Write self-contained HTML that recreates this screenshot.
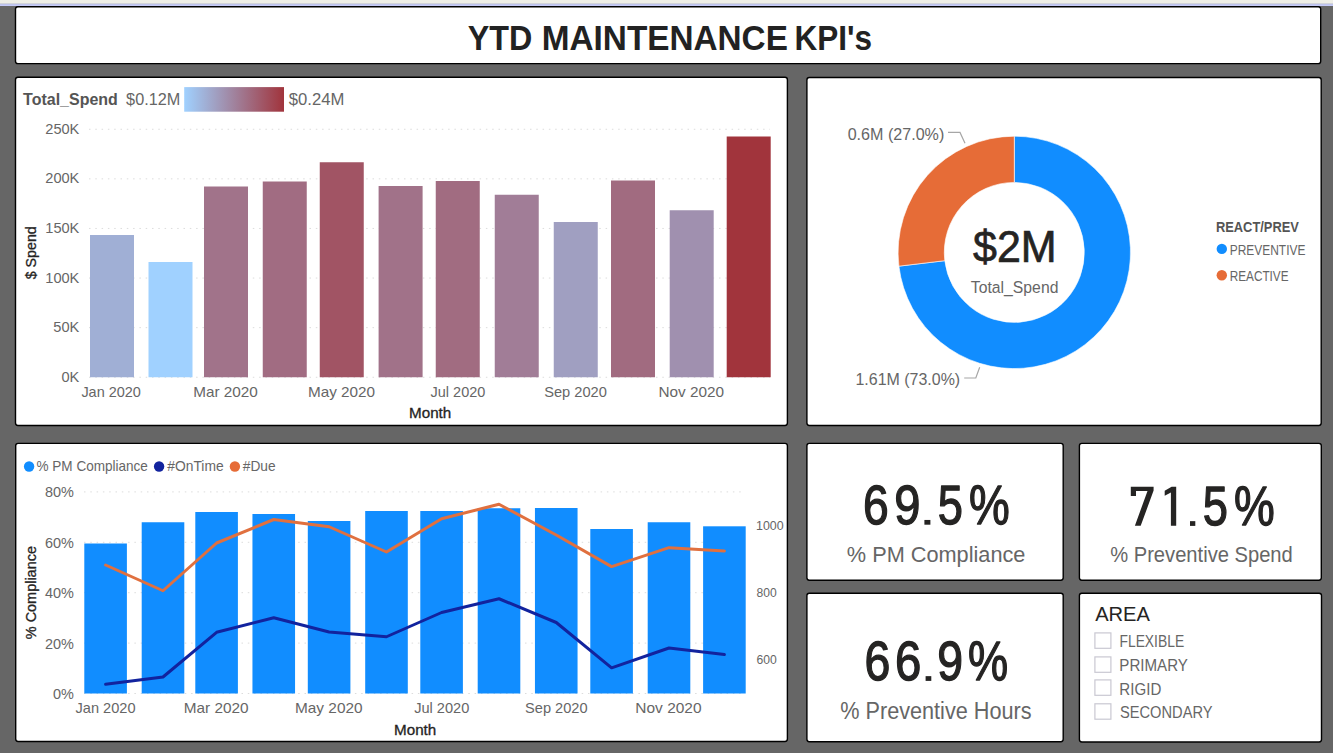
<!DOCTYPE html>
<html><head><meta charset="utf-8"><title>YTD MAINTENANCE KPI's</title>
<style>html,body{margin:0;padding:0;background:#666;overflow:hidden}svg{display:block}text{font-family:"Liberation Sans",sans-serif}</style>
</head><body>
<svg width="1333" height="753" viewBox="0 0 1333 753">
<defs><linearGradient id="lg" x1="0" x2="1" y1="0" y2="0"><stop offset="0" stop-color="#a0d1ff"/><stop offset="1" stop-color="#a1343c"/></linearGradient></defs>
<rect x="0" y="0" width="1333" height="753" fill="#666666"/>
<rect x="0" y="0" width="1333" height="3.4" fill="#efefe7"/>
<rect x="0" y="3.2" width="1333" height="1" fill="#dfe1ea"/>
<rect x="0" y="4.1" width="1333" height="1.9" fill="#c6cbf8"/>
<rect x="15.50" y="6.70" width="1305.20" height="56.90" rx="2.4" ry="2.4" fill="#fff" stroke="#000" stroke-width="1.4"/>
<rect x="15.50" y="77.30" width="771.90" height="348.20" rx="2.4" ry="2.4" fill="#fff" stroke="#000" stroke-width="1.4"/>
<rect x="806.90" y="77.50" width="514.30" height="348.00" rx="2.4" ry="2.4" fill="#fff" stroke="#000" stroke-width="1.4"/>
<rect x="15.70" y="443.40" width="771.70" height="298.10" rx="2.4" ry="2.4" fill="#fff" stroke="#000" stroke-width="1.4"/>
<rect x="806.90" y="443.40" width="256.30" height="136.80" rx="2.4" ry="2.4" fill="#fff" stroke="#000" stroke-width="1.4"/>
<rect x="1079.40" y="443.40" width="241.90" height="136.80" rx="2.4" ry="2.4" fill="#fff" stroke="#000" stroke-width="1.4"/>
<rect x="806.90" y="593.20" width="256.30" height="148.50" rx="2.4" ry="2.4" fill="#fff" stroke="#000" stroke-width="1.4"/>
<rect x="1079.40" y="593.20" width="242.10" height="148.80" rx="2.4" ry="2.4" fill="#fff" stroke="#000" stroke-width="1.4"/>
<text x="467.65" y="50.00" font-size="34.5" fill="#222" font-weight="bold" textLength="64.57" lengthAdjust="spacingAndGlyphs">YTD</text>
<text x="541.80" y="50.00" font-size="34.5" fill="#222" font-weight="bold" textLength="246.09" lengthAdjust="spacingAndGlyphs">MAINTENANCE</text>
<text x="794.42" y="50.00" font-size="34.5" fill="#222" font-weight="bold" textLength="77.64" lengthAdjust="spacingAndGlyphs">KPI's</text>
<text x="23.12" y="105.00" font-size="17.2" fill="#555" font-weight="bold" textLength="94.74" lengthAdjust="spacingAndGlyphs">Total_Spend</text>
<text x="126.14" y="105.00" font-size="15.8" fill="#666666" textLength="54.20" lengthAdjust="spacingAndGlyphs">$0.12M</text>
<rect x="184.2" y="87.1" width="99.8" height="24.6" fill="url(#lg)"/>
<text x="288.83" y="105.00" font-size="15.8" fill="#666666" textLength="55.54" lengthAdjust="spacingAndGlyphs">$0.24M</text>
<line x1="89" x2="770" y1="377.25" y2="377.25" stroke="#dcdcdc" stroke-width="1" stroke-dasharray="1.5 4.8"/>
<text x="61.50" y="381.85" font-size="14.6" fill="#666666" textLength="17.86" lengthAdjust="spacingAndGlyphs">0K</text>
<line x1="89" x2="770" y1="327.65" y2="327.65" stroke="#dcdcdc" stroke-width="1" stroke-dasharray="1.5 4.8"/>
<text x="53.39" y="332.25" font-size="14.6" fill="#666666" textLength="25.98" lengthAdjust="spacingAndGlyphs">50K</text>
<line x1="89" x2="770" y1="278.05" y2="278.05" stroke="#dcdcdc" stroke-width="1" stroke-dasharray="1.5 4.8"/>
<text x="45.27" y="282.65" font-size="14.6" fill="#666666" textLength="34.10" lengthAdjust="spacingAndGlyphs">100K</text>
<line x1="89" x2="770" y1="228.45" y2="228.45" stroke="#dcdcdc" stroke-width="1" stroke-dasharray="1.5 4.8"/>
<text x="45.27" y="233.05" font-size="14.6" fill="#666666" textLength="34.10" lengthAdjust="spacingAndGlyphs">150K</text>
<line x1="89" x2="770" y1="178.85" y2="178.85" stroke="#dcdcdc" stroke-width="1" stroke-dasharray="1.5 4.8"/>
<text x="45.27" y="183.45" font-size="14.6" fill="#666666" textLength="34.10" lengthAdjust="spacingAndGlyphs">200K</text>
<line x1="89" x2="770" y1="129.25" y2="129.25" stroke="#dcdcdc" stroke-width="1" stroke-dasharray="1.5 4.8"/>
<text x="45.27" y="133.85" font-size="14.6" fill="#666666" textLength="34.10" lengthAdjust="spacingAndGlyphs">250K</text>
<rect x="90" y="235" width="44" height="142.25" fill="#a0afd5"/>
<rect x="148.5" y="262" width="44" height="115.25" fill="#a0d1ff"/>
<rect x="204" y="186.5" width="44" height="190.75" fill="#a1738a"/>
<rect x="262.75" y="181.5" width="44" height="195.75" fill="#a16c82"/>
<rect x="319.75" y="162.25" width="44" height="215.00" fill="#a15464"/>
<rect x="378.6" y="186" width="44" height="191.25" fill="#a17289"/>
<rect x="435.75" y="181" width="44" height="196.25" fill="#a16c81"/>
<rect x="494.75" y="194.75" width="44" height="182.50" fill="#a17d97"/>
<rect x="553.75" y="222" width="44" height="155.25" fill="#a09fc1"/>
<rect x="611" y="180.5" width="44" height="196.75" fill="#a16b80"/>
<rect x="669.7" y="210.25" width="44" height="167.00" fill="#a090af"/>
<rect x="726.7" y="136.5" width="44" height="240.75" fill="#a1343c"/>
<text x="81.38" y="396.80" font-size="14.6" fill="#666666" textLength="59.56" lengthAdjust="spacingAndGlyphs">Jan 2020</text>
<text x="193.15" y="396.80" font-size="14.6" fill="#666666" textLength="64.65" lengthAdjust="spacingAndGlyphs">Mar 2020</text>
<text x="307.95" y="396.80" font-size="14.6" fill="#666666" textLength="67.14" lengthAdjust="spacingAndGlyphs">May 2020</text>
<text x="430.58" y="396.80" font-size="14.6" fill="#666666" textLength="54.76" lengthAdjust="spacingAndGlyphs">Jul 2020</text>
<text x="544.14" y="396.80" font-size="14.6" fill="#666666" textLength="62.71" lengthAdjust="spacingAndGlyphs">Sep 2020</text>
<text x="658.44" y="396.80" font-size="14.6" fill="#666666" textLength="65.64" lengthAdjust="spacingAndGlyphs">Nov 2020</text>
<text x="409.05" y="417.60" font-size="14" fill="#252423" textLength="42.22" lengthAdjust="spacingAndGlyphs" stroke="#252423" stroke-width="0.3">Month</text>
<g transform="translate(35.7,253.2) rotate(-90)">
<text x="-26.14" y="0.00" font-size="14.5" fill="#252423" textLength="53.06" lengthAdjust="spacingAndGlyphs" stroke="#252423" stroke-width="0.3">$ Spend</text>
</g>
<path d="M1014.30 136.20 A116.2 116.2 0 1 1 898.92 266.16 L944.79 260.69 A70 70 0 1 0 1014.30 182.40 Z" fill="#118dff" stroke="#fff" stroke-width="0.6"/>
<path d="M898.92 266.16 A116.2 116.2 0 0 1 1014.30 136.20 L1014.30 182.40 A70 70 0 0 0 944.79 260.69 Z" fill="#e66c37" stroke="#fff" stroke-width="0.6"/>
<text x="972.97" y="262.00" font-size="44.8" fill="#252423" textLength="83.67" lengthAdjust="spacingAndGlyphs" stroke="#252423" stroke-width="0.7">$2M</text>
<text x="970.85" y="292.70" font-size="16.3" fill="#666666" textLength="87.56" lengthAdjust="spacingAndGlyphs">Total_Spend</text>
<text x="847.67" y="140.00" font-size="16.6" fill="#666666" textLength="96.63" lengthAdjust="spacingAndGlyphs">0.6M (27.0%)</text>
<text x="855.49" y="385.00" font-size="16.6" fill="#666666" textLength="104.70" lengthAdjust="spacingAndGlyphs">1.61M (73.0%)</text>
<polyline points="948,132.4 960,132.4 965,143.3" fill="none" stroke="#a6a6a6" stroke-width="1.2"/>
<polyline points="964.2,378 975.8,378 979.7,367.2" fill="none" stroke="#a6a6a6" stroke-width="1.2"/>
<text x="1215.95" y="232.00" font-size="14" fill="#555" font-weight="bold" textLength="82.93" lengthAdjust="spacingAndGlyphs">REACT/PREV</text>
<circle cx="1221.8" cy="248.9" r="5.2" fill="#118dff"/>
<text x="1229.72" y="255.00" font-size="13.8" fill="#666666" textLength="75.68" lengthAdjust="spacingAndGlyphs">PREVENTIVE</text>
<circle cx="1221.8" cy="275.2" r="5.2" fill="#e66c37"/>
<text x="1229.74" y="281.00" font-size="13.8" fill="#666666" textLength="58.76" lengthAdjust="spacingAndGlyphs">REACTIVE</text>
<circle cx="29.1" cy="466.5" r="5.2" fill="#118dff"/>
<text x="36.53" y="470.60" font-size="14.1" fill="#666666" textLength="111.37" lengthAdjust="spacingAndGlyphs">% PM Compliance</text>
<circle cx="159.1" cy="466.5" r="5.2" fill="#12239e"/>
<text x="167.24" y="470.60" font-size="14.1" fill="#666666" textLength="56.37" lengthAdjust="spacingAndGlyphs">#OnTime</text>
<circle cx="234.9" cy="466.5" r="5.2" fill="#e66c37"/>
<text x="242.85" y="470.60" font-size="14.1" fill="#666666" textLength="32.77" lengthAdjust="spacingAndGlyphs">#Due</text>
<line x1="84" x2="745" y1="693.50" y2="693.50" stroke="#dcdcdc" stroke-width="1" stroke-dasharray="1.5 4.8"/>
<text x="52.92" y="698.90" font-size="14.6" fill="#666666" textLength="20.89" lengthAdjust="spacingAndGlyphs">0%</text>
<line x1="84" x2="745" y1="643.10" y2="643.10" stroke="#dcdcdc" stroke-width="1" stroke-dasharray="1.5 4.8"/>
<text x="44.88" y="648.50" font-size="14.6" fill="#666666" textLength="28.93" lengthAdjust="spacingAndGlyphs">20%</text>
<line x1="84" x2="745" y1="592.70" y2="592.70" stroke="#dcdcdc" stroke-width="1" stroke-dasharray="1.5 4.8"/>
<text x="44.88" y="598.10" font-size="14.6" fill="#666666" textLength="28.93" lengthAdjust="spacingAndGlyphs">40%</text>
<line x1="84" x2="745" y1="542.30" y2="542.30" stroke="#dcdcdc" stroke-width="1" stroke-dasharray="1.5 4.8"/>
<text x="44.88" y="547.70" font-size="14.6" fill="#666666" textLength="28.93" lengthAdjust="spacingAndGlyphs">60%</text>
<line x1="84" x2="745" y1="491.90" y2="491.90" stroke="#dcdcdc" stroke-width="1" stroke-dasharray="1.5 4.8"/>
<text x="44.88" y="497.30" font-size="14.6" fill="#666666" textLength="28.93" lengthAdjust="spacingAndGlyphs">80%</text>
<rect x="84.30" y="543.5" width="42.6" height="150.00" fill="#118dff"/>
<rect x="141.70" y="522.25" width="42.6" height="171.25" fill="#118dff"/>
<rect x="195.30" y="512" width="42.6" height="181.50" fill="#118dff"/>
<rect x="252.45" y="514" width="42.6" height="179.50" fill="#118dff"/>
<rect x="307.80" y="521" width="42.6" height="172.50" fill="#118dff"/>
<rect x="365.20" y="511" width="42.6" height="182.50" fill="#118dff"/>
<rect x="420.30" y="511" width="42.6" height="182.50" fill="#118dff"/>
<rect x="477.70" y="508.25" width="42.6" height="185.25" fill="#118dff"/>
<rect x="534.95" y="508" width="42.6" height="185.50" fill="#118dff"/>
<rect x="590.30" y="529" width="42.6" height="164.50" fill="#118dff"/>
<rect x="647.70" y="522.25" width="42.6" height="171.25" fill="#118dff"/>
<rect x="703.10" y="526.3" width="42.6" height="167.20" fill="#118dff"/>
<polyline fill="none" stroke="#12239e" stroke-width="3" stroke-linejoin="round" stroke-linecap="round" points="105.6,684.25 163,677 216.6,632.3 273.75,617.8 329.1,632 386.5,636.75 441.6,612.5 499,598.75 556.25,622.5 611.6,667.8 669,648 724.4,654.6"/>
<polyline fill="none" stroke="#e0703f" stroke-width="3" stroke-linejoin="round" stroke-linecap="round" points="105.6,565 163,590.75 216.6,543 273.75,519.5 329.1,526.75 386.5,552 441.6,518.75 499,504.25 556.25,535 611.6,566.6 669,547.7 724.4,551"/>
<text x="75.53" y="712.70" font-size="14.6" fill="#666666" textLength="60.02" lengthAdjust="spacingAndGlyphs">Jan 2020</text>
<text x="183.74" y="712.70" font-size="14.6" fill="#666666" textLength="64.85" lengthAdjust="spacingAndGlyphs">Mar 2020</text>
<text x="294.99" y="712.70" font-size="14.6" fill="#666666" textLength="67.61" lengthAdjust="spacingAndGlyphs">May 2020</text>
<text x="414.18" y="712.70" font-size="14.6" fill="#666666" textLength="55.17" lengthAdjust="spacingAndGlyphs">Jul 2020</text>
<text x="525.04" y="712.70" font-size="14.6" fill="#666666" textLength="62.51" lengthAdjust="spacingAndGlyphs">Sep 2020</text>
<text x="635.33" y="712.70" font-size="14.6" fill="#666666" textLength="66.25" lengthAdjust="spacingAndGlyphs">Nov 2020</text>
<text x="394.05" y="734.60" font-size="14" fill="#252423" textLength="42.22" lengthAdjust="spacingAndGlyphs" stroke="#252423" stroke-width="0.3">Month</text>
<g transform="translate(36,592.7) rotate(-90)">
<text x="-46.51" y="0.00" font-size="14.5" fill="#252423" textLength="93.15" lengthAdjust="spacingAndGlyphs" stroke="#252423" stroke-width="0.3">% Compliance</text>
</g>
<text x="756.06" y="530.30" font-size="12.5" fill="#666666" textLength="27.62" lengthAdjust="spacingAndGlyphs">1000</text>
<text x="756.48" y="597.20" font-size="12.5" fill="#666666" textLength="20.19" lengthAdjust="spacingAndGlyphs">800</text>
<text x="756.39" y="664.10" font-size="12.5" fill="#666666" textLength="20.28" lengthAdjust="spacingAndGlyphs">600</text>
<text x="863.09" y="524.10" font-size="55.5" fill="#252423" textLength="25.71" lengthAdjust="spacingAndGlyphs" stroke="#252423" stroke-width="1.3" stroke-linejoin="round">6</text>
<text x="894.23" y="524.10" font-size="55.5" fill="#252423" textLength="26.19" lengthAdjust="spacingAndGlyphs" stroke="#252423" stroke-width="1.3" stroke-linejoin="round">9</text>
<rect x="924.40" y="519.95" width="6.00" height="4.75" fill="#252423"/>
<text x="937.69" y="524.10" font-size="55.5" fill="#252423" textLength="25.17" lengthAdjust="spacingAndGlyphs" stroke="#252423" stroke-width="1.3" stroke-linejoin="round">5</text>
<text x="969.00" y="524.10" font-size="55.5" fill="#252423" textLength="40.71" lengthAdjust="spacingAndGlyphs" stroke="#252423" stroke-width="1.3" stroke-linejoin="round">%</text>
<text x="846.84" y="562.00" font-size="21.8" fill="#666666" textLength="178.62" lengthAdjust="spacingAndGlyphs">% PM Compliance</text>
<rect x="1190.00" y="521.15" width="5.30" height="4.75" fill="#252423"/>
<text x="1202.69" y="525.30" font-size="55.5" fill="#252423" textLength="25.17" lengthAdjust="spacingAndGlyphs" stroke="#252423" stroke-width="1.3" stroke-linejoin="round">5</text>
<text x="1234.00" y="525.30" font-size="55.5" fill="#252423" textLength="40.71" lengthAdjust="spacingAndGlyphs" stroke="#252423" stroke-width="1.3" stroke-linejoin="round">%</text>
<path d="M1130.8 486.7 L1153.6 486.7 L1153.6 490.6 L1140.7 525.8 L1134.9 525.8 L1147.5 490.9 L1136 490.9 L1136 495.9 L1130.8 495.9 Z" fill="#252423"/>
<path d="M1176.2 486.7 L1176.2 525.8 L1170.9 525.8 L1170.9 492.5 L1164.7 495.7 L1164.7 490.7 L1171.6 486.7 Z" fill="#252423"/>
<text x="1110.19" y="562.00" font-size="21.8" fill="#666666" textLength="182.60" lengthAdjust="spacingAndGlyphs">% Preventive Spend</text>
<text x="864.38" y="680.30" font-size="55.5" fill="#252423" textLength="25.83" lengthAdjust="spacingAndGlyphs" stroke="#252423" stroke-width="1.3" stroke-linejoin="round">6</text>
<text x="894.93" y="680.30" font-size="55.5" fill="#252423" textLength="26.31" lengthAdjust="spacingAndGlyphs" stroke="#252423" stroke-width="1.3" stroke-linejoin="round">6</text>
<rect x="925.60" y="676.15" width="5.70" height="4.75" fill="#252423"/>
<text x="937.36" y="680.30" font-size="55.5" fill="#252423" textLength="25.83" lengthAdjust="spacingAndGlyphs" stroke="#252423" stroke-width="1.3" stroke-linejoin="round">9</text>
<text x="968.12" y="680.30" font-size="55.5" fill="#252423" textLength="40.17" lengthAdjust="spacingAndGlyphs" stroke="#252423" stroke-width="1.3" stroke-linejoin="round">%</text>
<text x="840.24" y="719.00" font-size="23" fill="#666666" textLength="191.34" lengthAdjust="spacingAndGlyphs">% Preventive Hours</text>
<text x="1095.16" y="620.60" font-size="20.4" fill="#252423" textLength="54.78" lengthAdjust="spacingAndGlyphs">AREA</text>
<rect x="1094.9" y="632.9" width="16" height="15.4" fill="#fff" stroke="#c9c8d2" stroke-width="1.2"/>
<text x="1119.46" y="646.60" font-size="16.8" fill="#666666" textLength="64.72" lengthAdjust="spacingAndGlyphs">FLEXIBLE</text>
<rect x="1094.9" y="656.9" width="16" height="15.4" fill="#fff" stroke="#c9c8d2" stroke-width="1.2"/>
<text x="1119.36" y="670.60" font-size="16.8" fill="#666666" textLength="68.47" lengthAdjust="spacingAndGlyphs">PRIMARY</text>
<rect x="1094.9" y="679.9" width="16" height="15.4" fill="#fff" stroke="#c9c8d2" stroke-width="1.2"/>
<text x="1119.36" y="694.50" font-size="16.8" fill="#666666" textLength="41.95" lengthAdjust="spacingAndGlyphs">RIGID</text>
<rect x="1094.9" y="703.8000000000001" width="16" height="15.4" fill="#fff" stroke="#c9c8d2" stroke-width="1.2"/>
<text x="1119.94" y="718.30" font-size="16.8" fill="#666666" textLength="92.59" lengthAdjust="spacingAndGlyphs">SECONDARY</text>
</svg></body></html>
